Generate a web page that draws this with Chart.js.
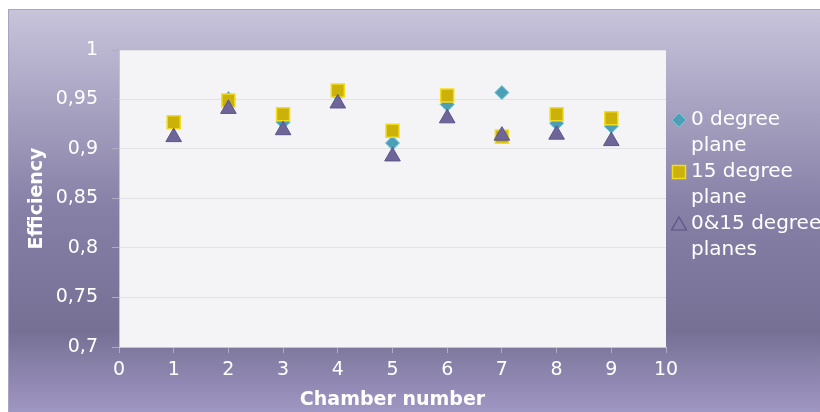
<!DOCTYPE html>
<html>
<head>
<meta charset="utf-8">
<script src="https://cdn.jsdelivr.net/npm/chart.js@4"></script>
<style>
body { margin: 0; background: #fff; }
</style>
</head>
<body>
<canvas id="efficiencyCanvas" width="820" height="412"></canvas>
<script>
let chambers = [1, 2, 3, 4, 5, 6, 7, 8, 9];
let zeroDegree = [0.927, 0.951, 0.927, 0.955, 0.906, 0.945, 0.957, 0.926, 0.923];
let fifteenDegree = [0.927, 0.949, 0.935, 0.959, 0.9185, 0.954, 0.9125, 0.935, 0.931];
let bothPlanes = [0.912, 0.9405, 0.919, 0.946, 0.8925, 0.931, 0.9135, 0.9145, 0.908];
let seriesNames = [["0 degree", "plane"], ["15 degree", "plane"], ["0&15 degree", "planes"]];
let yTickLabels = ["0,7", "0,75", "0,8", "0,85", "0,9", "0,95", "1"];

let fontName = "'DejaVu Sans', 'Liberation Sans', sans-serif";

function toPoints(values) {
    return chambers.map((c, i) => ({ x: c, y: values[i] }));
}

// frame gradient + white plot area
let backgroundPlugin = {
    id: "background",
    beforeDraw(chart) {
        let ctx = chart.ctx;
        let area = chart.chartArea;
        ctx.save();
        ctx.fillStyle = "#ffffff";
        ctx.fillRect(0, 0, chart.width, chart.height);
        let grad = ctx.createLinearGradient(0, 9, 0, 412);
        grad.addColorStop(0, "#c7c4db");
        grad.addColorStop(0.15, "#b4afcb");
        grad.addColorStop(0.5, "#867fa6");
        grad.addColorStop(0.8, "#777095");
        grad.addColorStop(1, "#9f97c3");
        ctx.fillStyle = grad;
        ctx.fillRect(8, 9, chart.width - 8, chart.height - 9);
        ctx.strokeStyle = "#a9a5c0";
        ctx.lineWidth = 1;
        ctx.beginPath();
        ctx.moveTo(8.5, chart.height);
        ctx.lineTo(8.5, 9.5);
        ctx.lineTo(chart.width, 9.5);
        ctx.stroke();
        ctx.fillStyle = "#f4f4f6";
        ctx.fillRect(area.left, area.top, area.right - area.left, area.bottom - area.top);
        ctx.restore();
    }
};

// legend with wrapped labels
let legendPlugin = {
    id: "wrappedLegend",
    afterDraw(chart) {
        let ctx = chart.ctx;
        ctx.save();
        let mx = 679;
        let rows = [120, 172, 224];
        // diamond
        ctx.beginPath();
        ctx.moveTo(mx, rows[0] - 7);
        ctx.lineTo(mx + 7, rows[0]);
        ctx.lineTo(mx, rows[0] + 7);
        ctx.lineTo(mx - 7, rows[0]);
        ctx.closePath();
        ctx.fillStyle = "#4d9fb5";
        ctx.fill();
        ctx.strokeStyle = "#72c6d8";
        ctx.lineWidth = 1;
        ctx.stroke();
        // square
        ctx.fillStyle = "#cbb10a";
        ctx.fillRect(mx - 6.5, rows[1] - 6.5, 13, 13);
        ctx.strokeStyle = "#f2dd1c";
        ctx.lineWidth = 1.5;
        ctx.strokeRect(mx - 6.5, rows[1] - 6.5, 13, 13);
        // triangle outline
        ctx.beginPath();
        ctx.moveTo(mx, rows[2] - 7);
        ctx.lineTo(mx + 7.5, rows[2] + 6);
        ctx.lineTo(mx - 7.5, rows[2] + 6);
        ctx.closePath();
        ctx.strokeStyle = "#5c5488";
        ctx.lineWidth = 1.2;
        ctx.stroke();

        ctx.fillStyle = "#ffffff";
        ctx.font = "20px " + fontName;
        ctx.textBaseline = "middle";
        ctx.textAlign = "left";
        seriesNames.forEach((lines, i) => {
            lines.forEach((line, j) => {
                ctx.fillText(line, 691, rows[i] + j * 26);
            });
        });
        ctx.restore();
    }
};

let efficiencyChart = new Chart(document.getElementById("efficiencyCanvas").getContext("2d"), {

    type: "scatter",

    data: {
        datasets: [
            {
                label: seriesNames[0].join(" "),
                data: toPoints(zeroDegree),
                pointStyle: "rectRot",
                pointRadius: 7,
                backgroundColor: "#4d9fb5",
                borderColor: "#72c6d8",
                borderWidth: 1,
                order: 3,
            },
            {
                label: seriesNames[1].join(" "),
                data: toPoints(fifteenDegree),
                pointStyle: "rect",
                pointRadius: 9.2,
                backgroundColor: "#cbb10a",
                borderColor: "#f2dd1c",
                borderWidth: 1.5,
                order: 2,
            },
            {
                label: seriesNames[2].join(" "),
                data: toPoints(bothPlanes),
                pointStyle: "triangle",
                pointRadius: 9,
                backgroundColor: "#6e6698",
                borderColor: "#5c5488",
                borderWidth: 1,
                order: 1,
            },
        ]
    },

    options: {
        responsive: false,
        animation: false,
        layout: {
            padding: { left: 0, top: 50, right: 154, bottom: 0 }
        },
        plugins: {
            legend: { display: false },
            tooltip: { enabled: false },
        },
        scales: {
            x: {
                type: "linear",
                min: 0,
                max: 10,
                afterFit(scale) { scale.height = 65; },
                ticks: {
                    stepSize: 1,
                    color: "#ffffff",
                    font: { family: fontName, size: 19 },
                    padding: 6,
                },
                grid: {
                    drawOnChartArea: false,
                    tickLength: 6,
                    tickColor: "#aeacc0",
                },
                border: { color: "#c4c3cf" },
                title: {
                    display: true,
                    text: "Chamber number",
                    color: "#ffffff",
                    font: { family: fontName, size: 19, weight: "bold" },
                    padding: { top: 0, bottom: 1 },
                },
            },
            y: {
                min: 0.7,
                max: 1,
                afterFit(scale) { scale.width = 119; },
                ticks: {
                    stepSize: 0.05,
                    color: "#ffffff",
                    font: { family: fontName, size: 19 },
                    padding: 14,
                    callback: (value, index) => yTickLabels[index],
                },
                grid: {
                    color: "#e2e2e7",
                    tickLength: 7,
                    tickColor: "#aeacc0",
                },
                border: { color: "#c4c3cf" },
                title: {
                    display: true,
                    text: "Efficiency",
                    color: "#ffffff",
                    font: { family: fontName, size: 19, weight: "bold" },
                    padding: { top: 26, bottom: 0 },
                },
            },
        },
    },

    plugins: [backgroundPlugin, legendPlugin],
})
</script>
</body>
</html>
